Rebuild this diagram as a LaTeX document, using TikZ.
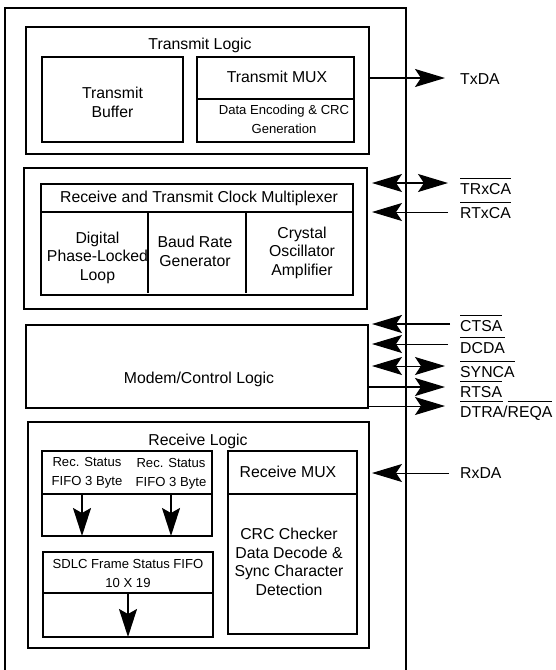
\documentclass[tikz,border=0pt]{standalone}
\usepackage{fontspec}
\setmainfont{Liberation Sans}
\usetikzlibrary{arrows.meta,fit}
\newcommand\ovl[1]{\setbox0\hbox{#1}\rlap{\rule[\dimexpr\ht0+4pt\relax]{\wd0}{1.2pt}}\box0}
\begin{document}
\begin{tikzpicture}[x=1pt,y=-1pt,
  box/.style={draw,line width=1.8pt,inner sep=0pt,outer sep=0pt},
  big/.style={font=\fontsize{15.8}{18.5}\selectfont,align=center,anchor=base,inner sep=0pt},
  small/.style={font=\fontsize{13.1}{18.2}\selectfont,align=center,anchor=base,inner sep=0pt},
  sig/.style={anchor=base west,inner sep=0pt,font=\fontsize{15.8}{18.5}\selectfont},
  thickw/.style={line width=1.8pt},
  medw/.style={line width=1.4pt},
  thinw/.style={line width=1pt},
  divider/.style={line width=1.8pt},
  >={Stealth[length=30pt,width=18pt,inset=6pt]},
  downarr/.style={line width=1.8pt,-{Stealth[length=28pt,width=18pt,inset=5pt]}}
]
\useasboundingbox (0,0) rectangle (555,670);
% outer chip outline (open at bottom)
\draw[line width=1.8pt] (5,671) -- (5,8.3) -- (406,8.3) -- (406,671);

% Transmit logic
\node[box,fit={(26,26.7) (369,154)}] (tl) {};
\node[big] (tltitle) at (200,49) {Transmit Logic};
\node[box,fit={(42,57) (183,142)}] (tbuf) {};
\node[big] (tbuftext) at (112.5,117) {Transmit\\Buffer};
\node[box,fit={(197,57) (354,142)}] (tmux) {};
\draw[divider] (tmux.west |- 0,99) -- (tmux.east |- 0,99);
\node[big] (tmuxtext) at (277,82) {Transmit MUX};
\node[small] (tenc) at (284,133) {Data Encoding \& CRC\\Generation};

% Clock multiplexer
\node[box,fit={(24,168) (367,309)}] (clk) {};
\node[box,fit={(41,184) (353,295)}] (clkin) {};
\draw[divider] (clkin.west |- 0,212) -- (clkin.east |- 0,212);
\draw[divider] (148,212) -- (148,293);
\draw[divider] (246,212) -- (246,293);
\node[big] (clktitle) at (199,202) {Receive and Transmit Clock Multiplexer};
\node[big] (dpll) at (97.5,280) {Digital\\Phase-Locked\\Loop};
\node[big] (brg) at (195,266) {Baud Rate\\Generator};
\node[big] (xtal) at (302,275) {Crystal\\Oscillator\\Amplifier};

% Modem
\node[box,fit={(26,325) (368,408)}] (modem) {};
\node[big] (modemtext) at (199,383) {Modem/Control Logic};

% Receive logic
\node[box,fit={(28,422) (369,648)}] (rl) {};
\node[big] (rltitle) at (198,445) {Receive Logic};
\node[box,fit={(42,451) (212,536)}] (rs) {};
\draw[divider] (rs.west |- 0,494) -- (rs.east |- 0,494);
\node[small] (rs1) at (87,485) {Rec. Status\\FIFO 3 Byte};
\node[small] (rs2) at (171,486) {Rec. Status\\FIFO 3 Byte};
\coordinate (a1s) at (82,494);
\coordinate (a2s) at (171,494);
\draw[downarr] (a1s) -- (a1s |- rs.south);
\draw[downarr] (a2s) -- (a2s |- rs.south);
\node[box,fit={(43,552) (213,637)}] (sdlc) {};
\draw[divider] (sdlc.west |- 0,593) -- (sdlc.east |- 0,593);
\node[small] (sdlctext) at (128,587) {SDLC Frame Status FIFO\\10 X 19};
\coordinate (a3s) at (128,593);
\draw[downarr] (a3s) -- (a3s |- sdlc.south);
\node[box,fit={(228,451) (357,634)}] (rmux) {};
\draw[divider] (rmux.west |- 0,494) -- (rmux.east |- 0,494);
\node[big] (rmuxtext) at (288,477) {Receive MUX};
\node[big] (crc) at (289,595) {CRC Checker\\Data Decode \&\\Sync Character\\Detection};

% pin labels
\node[sig] (txda) at (460,84) {TxDA};
\node[sig] (trxca) at (460,194) {\ovl{TRxCA}};
\node[sig] (rtxca) at (460,218) {\ovl{RTxCA}};
\node[sig] (ctsa) at (460,331) {\ovl{CTSA}};
\node[sig] (dcda) at (460,353) {\ovl{DCDA}};
\node[sig] (synca) at (460,377) {\ovl{SYNCA}};
\node[sig] (rtsa) at (460,397) {\ovl{RTSA}};
\node[sig] (dtra) at (460,417) {\ovl{DTRA}/\ovl{REQA}};
\node[sig] (rxda) at (460,478) {RxDA};

% pin ends
\coordinate (ptxda) at (445,78);
\coordinate (ptrxca) at (448,183);
\coordinate (prtxca) at (448,212);
\coordinate (pctsa) at (450,324);
\coordinate (pdcda) at (448,344);
\coordinate (psynca) at (445,366);
\coordinate (prtsa) at (445,387);
\coordinate (pdtra) at (445,406);
\coordinate (prxda) at (449,473);

% connectors
\draw[thickw,->] (tl.east |- ptxda) -- (ptxda);
\draw[medw,<->,shorten <=5pt] (clk.east |- ptrxca) -- (ptrxca);
\draw[thinw,->,shorten >=5pt] (prtxca) -- (clk.east |- prtxca);
\draw[thickw,->,shorten >=4pt] (pctsa) -- (modem.east |- pctsa);
\draw[thinw,->,shorten >=4pt] (pdcda) -- (modem.east |- pdcda);
\draw[thinw,<->,shorten <=4pt] (modem.east |- psynca) -- (psynca);
\draw[thickw,->] (modem.east |- prtsa) -- (prtsa);
\draw[thinw,->] (modem.east |- pdtra) -- (pdtra);
\draw[thinw,->,shorten >=3pt] (prxda) -- (rl.east |- prxda);
\end{tikzpicture}
\end{document}
